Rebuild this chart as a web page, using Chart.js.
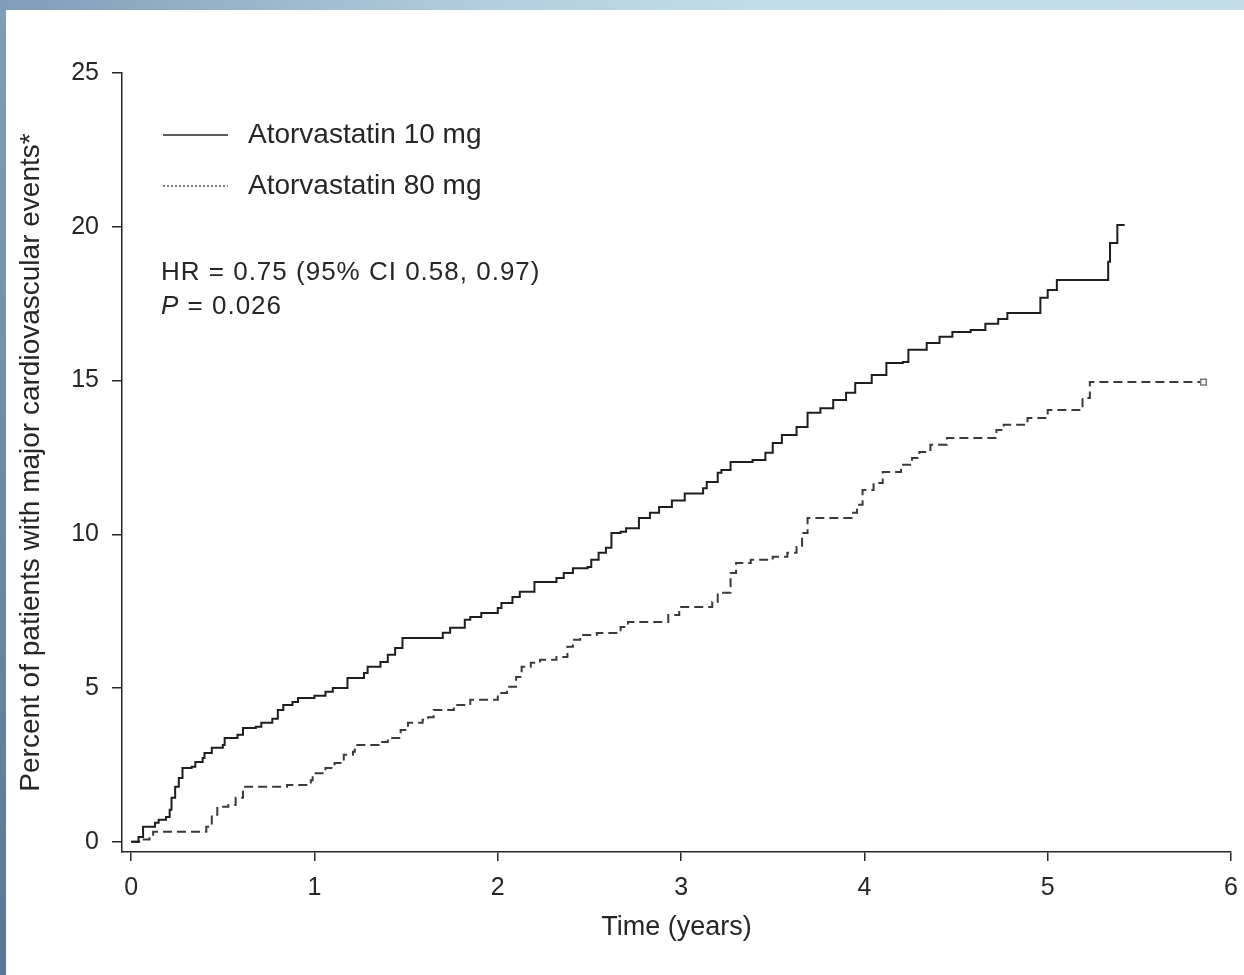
<!DOCTYPE html>
<html>
<head>
<meta charset="utf-8">
<title>Major cardiovascular events by atorvastatin dose</title>
<script src="https://cdn.jsdelivr.net/npm/chart.js@4.4.1/dist/chart.umd.min.js"></script>
<style>
  html, body { margin: 0; padding: 0; background: #fff; }
  #wrap { width: 1244px; height: 975px; position: relative; }
</style>
</head>
<body>
<div id="wrap"><canvas id="km"></canvas></div>
<script>
// Axis ticks
const xTicks = [0, 1, 2, 3, 4, 5, 6];
const yTicks = [0, 5, 10, 15, 20, 25];

// Series labels
const seriesLabels = ['Atorvastatin 10 mg', 'Atorvastatin 80 mg'];

// Cumulative event curve, atorvastatin 10 mg (time in years, percent)
const time10 = [0, 0.02, 0.04, 0.065, 0.13, 0.15, 0.19, 0.21, 0.22, 0.24, 0.26, 0.28, 0.33, 0.35, 0.39, 0.40,
  0.44, 0.50, 0.51, 0.58, 0.61, 0.68, 0.71, 0.77, 0.80, 0.83, 0.88, 0.91, 1.00, 1.06, 1.10, 1.18, 1.27, 1.29,
  1.36, 1.40, 1.44, 1.48, 1.70, 1.74, 1.82, 1.85, 1.91, 2.00, 2.02, 2.08, 2.12, 2.20, 2.32, 2.36, 2.41, 2.49,
  2.51, 2.55, 2.59, 2.62, 2.67, 2.70, 2.77, 2.83, 2.88, 2.95, 3.02, 3.12, 3.14, 3.20, 3.22, 3.27, 3.39, 3.46,
  3.50, 3.55, 3.63, 3.69, 3.76, 3.83, 3.90, 3.95, 4.04, 4.12, 4.21, 4.24, 4.34, 4.41, 4.48, 4.58, 4.66, 4.73,
  4.78, 4.96, 5.00, 5.05, 5.33, 5.34, 5.38, 5.42];
const pct10 = [0, 0, 0.16, 0.49, 0.62, 0.72, 0.81, 1.04, 1.43, 1.79, 2.08, 2.40, 2.44, 2.60, 2.73, 2.89,
  3.06, 3.15, 3.38, 3.48, 3.70, 3.74, 3.87, 4.00, 4.29, 4.45, 4.55, 4.68, 4.75, 4.88, 5.00, 5.33, 5.49, 5.69,
  5.85, 6.08, 6.30, 6.63, 6.80, 6.96, 7.22, 7.31, 7.44, 7.60, 7.77, 7.96, 8.13, 8.45, 8.58, 8.74, 8.90, 8.94,
  9.17, 9.40, 9.56, 10.04, 10.08, 10.20, 10.53, 10.70, 10.89, 11.10, 11.33, 11.50, 11.70, 12.00, 12.09, 12.35, 12.42, 12.65,
  12.97, 13.23, 13.49, 13.95, 14.10, 14.37, 14.60, 14.92, 15.18, 15.57, 15.60, 16.00, 16.22, 16.42, 16.58, 16.64, 16.85, 17.00,
  17.20, 17.69, 17.94, 18.27, 18.86, 19.47, 20.06, 20.06];

// Cumulative event curve, atorvastatin 80 mg (time in years, percent)
const time80 = [0, 0.05, 0.10, 0.12, 0.41, 0.44, 0.47, 0.53, 0.57, 0.61, 0.85, 0.98, 0.99, 1.06, 1.11, 1.16,
  1.21, 1.22, 1.35, 1.40, 1.47, 1.51, 1.59, 1.62, 1.65, 1.76, 1.85, 2.00, 2.05, 2.10, 2.13, 2.18, 2.23, 2.32,
  2.38, 2.41, 2.45, 2.54, 2.67, 2.71, 2.93, 2.99, 3.17, 3.20, 3.27, 3.30, 3.38, 3.50, 3.58, 3.63, 3.66, 3.69,
  3.93, 3.96, 3.99, 4.05, 4.10, 4.20, 4.26, 4.30, 4.36, 4.45, 4.72, 4.76, 4.89, 5.00, 5.19, 5.23, 5.85];
const pct80 = [0, 0.08, 0.16, 0.33, 0.49, 0.88, 1.14, 1.20, 1.43, 1.79, 1.85, 2.00, 2.23, 2.40, 2.56, 2.83,
  2.93, 3.15, 3.25, 3.38, 3.64, 3.87, 3.97, 4.05, 4.29, 4.45, 4.62, 4.84, 5.04, 5.36, 5.69, 5.82, 5.92, 6.01,
  6.34, 6.57, 6.73, 6.79, 6.99, 7.15, 7.38, 7.64, 7.80, 8.10, 8.74, 9.07, 9.17, 9.27, 9.40, 9.59, 10.04, 10.53,
  10.70, 10.96, 11.44, 11.67, 12.03, 12.26, 12.48, 12.68, 12.91, 13.13, 13.39, 13.56, 13.78, 14.04, 14.43, 14.95, 14.95];

const toPoints = (xs, ys) => xs.map((x, i) => ({ x: x, y: ys[i] }));

const ink = '#262626';
const FONT = "'Liberation Sans', Arial, Helvetica, sans-serif";
Chart.defaults.font.family = FONT;
Chart.defaults.color = ink;

// Page frame: white sheet with a blue strip across the top and down the left edge
const framePlugin = {
  id: 'frame',
  beforeDraw(chart) {
    const c = chart.ctx, w = chart.width, h = chart.height;
    c.save();
    c.fillStyle = '#fff';
    c.fillRect(0, 0, w, h);
    const top = c.createLinearGradient(0, 0, w, 0);
    top.addColorStop(0, '#7f9cb8');
    top.addColorStop(0.4, '#b3cfdf');
    top.addColorStop(0.6, '#c0dce8');
    top.addColorStop(1, '#c2dde8');
    c.fillStyle = top;
    c.fillRect(0, 0, w, 10);
    const left = c.createLinearGradient(0, 0, 0, h);
    left.addColorStop(0, '#809db8');
    left.addColorStop(1, '#5a7896');
    c.fillStyle = left;
    c.fillRect(0, 0, 6, h);
    c.restore();
  }
};

// Key and hazard-ratio annotation in the upper-left of the plot
const notesPlugin = {
  id: 'notes',
  afterDraw(chart) {
    const c = chart.ctx;
    const ds = chart.data.datasets;
    c.save();
    c.textBaseline = 'middle';
    c.textAlign = 'left';
    const rows = [135, 186];
    ds.forEach((d, i) => {
      c.beginPath();
      c.strokeStyle = ink;
      c.lineWidth = i === 0 ? 1.6 : 1.2;
      c.setLineDash(i === 0 ? [] : [2, 2]);
      c.moveTo(163, rows[i]);
      c.lineTo(228, rows[i]);
      c.stroke();
      c.setLineDash([]);
      c.fillStyle = ink;
      c.font = '28px ' + FONT;
      c.fillText(d.label, 248, rows[i]);
    });
    c.font = '26px ' + FONT;
    c.letterSpacing = '1px';
    c.fillText('HR = 0.75 (95% CI 0.58, 0.97)', 161, 273);
    c.font = 'italic 26px ' + FONT;
    c.fillText('P', 161, 307);
    const pw = c.measureText('P').width;
    c.font = '26px ' + FONT;
    c.fillText(' = 0.026', 161 + pw, 307);
    c.restore();
  }
};

const last80 = time80.length - 1;

new Chart(document.getElementById('km'), {
  type: 'line',
  data: {
    datasets: [
      {
        label: seriesLabels[0],
        data: toPoints(time10, pct10),
        stepped: 'before',
        borderColor: '#1e1e1e',
        borderWidth: 2,
        pointRadius: 0,
        fill: false
      },
      {
        label: seriesLabels[1],
        data: toPoints(time80, pct80),
        stepped: 'before',
        borderColor: '#3a3a3a',
        borderWidth: 2,
        borderDash: [9, 5],
        pointStyle: 'rect',
        pointRadius: ctx => (ctx.dataIndex === last80 ? 4 : 0),
        pointBorderColor: '#777',
        pointBorderWidth: 1.5,
        pointBackgroundColor: '#fff',
        fill: false
      }
    ]
  },
  options: {
    responsive: true,
    maintainAspectRatio: false,
    devicePixelRatio: 1,
    animation: false,
    layout: { padding: { top: 73, right: 13, left: 10, bottom: 27 } },
    plugins: {
      legend: { display: false },
      tooltip: { enabled: false }
    },
    scales: {
      x: {
        type: 'linear',
        min: -0.05,
        max: 6,
        afterBuildTicks: s => { s.ticks = xTicks.map(v => ({ value: v })); },
        afterFit: s => { s.height = 96; s.paddingRight = 0; s.paddingLeft = 0; },
        grid: { display: true, drawOnChartArea: false, drawTicks: true, tickLength: 9, color: ink, lineWidth: 1.5 },
        border: { display: true, color: ink, width: 1.5 },
        ticks: { font: { size: 25 }, color: ink, padding: 12, maxRotation: 0, autoSkip: false },
        title: { display: true, text: 'Time (years)', font: { size: 27 }, color: ink, padding: { top: 4, bottom: 4 } }
      },
      y: {
        type: 'linear',
        min: -0.33,
        max: 25,
        afterBuildTicks: s => { s.ticks = yTicks.map(v => ({ value: v })); },
        afterFit: s => { s.width = 112; },
        grid: { display: true, drawOnChartArea: false, drawTicks: true, tickLength: 10, color: ink, lineWidth: 1.5 },
        border: { display: true, color: ink, width: 1.5 },
        ticks: { font: { size: 25 }, color: ink, padding: 13 },
        title: { display: true, text: 'Percent of patients with major cardiovascular events*', font: { size: 28 }, color: ink, padding: { top: 4, bottom: 4 } }
      }
    }
  },
  plugins: [framePlugin, notesPlugin]
});
</script>
</body>
</html>
